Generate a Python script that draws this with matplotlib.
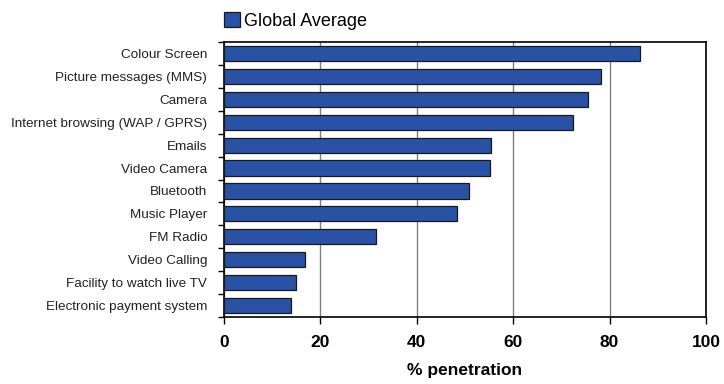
import matplotlib
matplotlib.use('Agg')
import matplotlib.pyplot as plt
import numpy as np

plt.rcParams['font.family'] = ['Liberation Sans', 'DejaVu Sans']

features = ['Colour Screen', 'Picture messages (MMS)', 'Camera',
            'Internet browsing (WAP / GPRS)', 'Emails', 'Video Camera',
            'Bluetooth', 'Music Player', 'FM Radio', 'Video Calling',
            'Facility to watch live TV', 'Electronic payment system']
penetration = [86.4, 78.3, 75.6, 72.4, 55.4, 55.2, 50.9, 48.4, 31.6, 16.9, 14.9, 13.9]
x_ticks = [0, 20, 40, 60, 80, 100]

BAR_COLOR = '#2a52a4'

fig = plt.figure(figsize=(7.24, 3.84), dpi=100)
ax = fig.add_axes([224 / 724, 1 - 317 / 384, 482 / 724, 275 / 384])

pos = np.arange(len(features))
ax.barh(pos, penetration, height=0.66, color=BAR_COLOR, edgecolor='#1a1a1a',
        linewidth=0.9, label='Global Average', zorder=3)

ax.set_xlim(0, 100)
ax.set_ylim(len(features) - 0.5, -0.5)

ax.set_xticks(x_ticks)
ax.set_xticklabels([str(t) for t in x_ticks], fontsize=12.5, fontweight='bold')
ax.tick_params(axis='x', length=5, width=1, pad=8, direction='out')
ax.xaxis.grid(True, color='#808080', linewidth=1.0, zorder=0)

ax.set_yticks(pos)
ax.set_yticklabels(features, fontsize=9.7, color='#222222')
ax.set_yticks(np.arange(len(features) + 1) - 0.5, minor=True)
ax.tick_params(axis='y', which='major', length=0, pad=12)
ax.tick_params(axis='y', which='minor', length=4, width=1, direction='out')

for side in ax.spines.values():
    side.set_color('black')
    side.set_linewidth(1.2)

ax.set_xlabel('% penetration', fontsize=12.5, fontweight='bold', labelpad=9)

fig.legend(loc='upper left', bbox_to_anchor=(208 / 724, 1.01), frameon=False,
           fontsize=13, handlelength=0.85, handleheight=0.9, handletextpad=0.25)

fig.savefig('out.png', dpi=100)
